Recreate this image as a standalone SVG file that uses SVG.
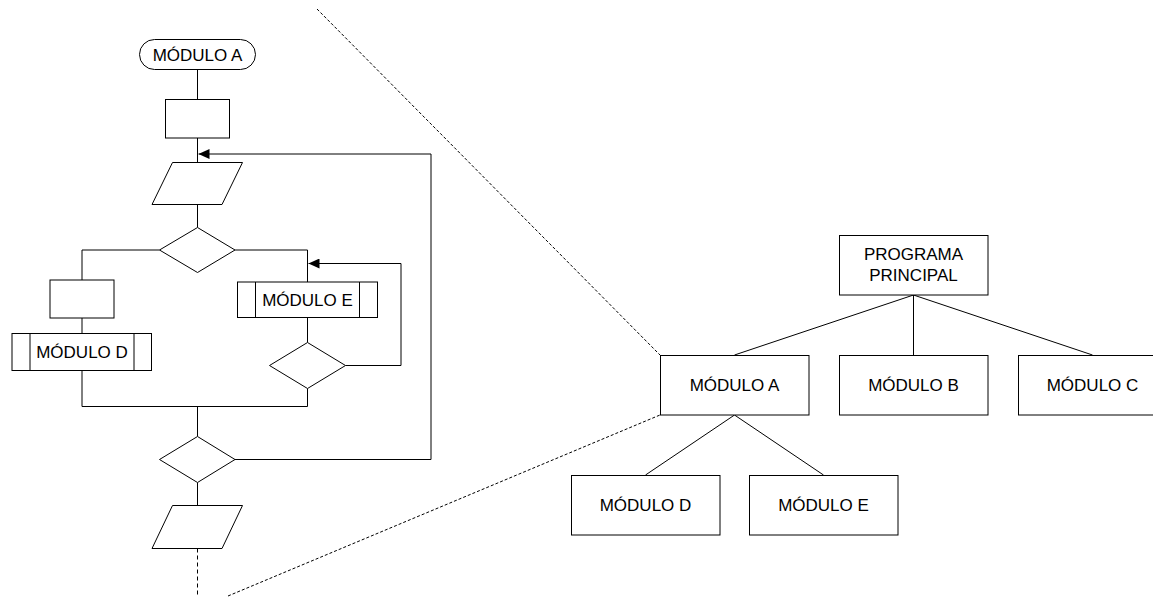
<svg xmlns="http://www.w3.org/2000/svg" width="1153" height="599" viewBox="0 0 1153 599">
<style>
.s{fill:#fff;stroke:#000;stroke-width:1}
.l{fill:none;stroke:#000;stroke-width:1}
.d{fill:none;stroke:#000;stroke-width:1;stroke-dasharray:3 2}
.dv{fill:none;stroke:#000;stroke-width:1;stroke-dasharray:4 3}
text{font-family:"Liberation Sans",Arial,sans-serif;font-size:17px;fill:#000;text-anchor:middle}
</style>
<defs>
<marker id="ah" viewBox="0 0 11 10" refX="11" refY="5" markerWidth="11" markerHeight="10" markerUnits="userSpaceOnUse" orient="auto">
<path d="M0,0 L11,5 L0,10 Z" fill="#000"/>
</marker>
</defs>
<rect width="1153" height="599" fill="#fff"/>
<g id="connectors">
<path class="l" d="M197.5,69.5 V99.5"/>
<path class="l" d="M197.5,138 V162.5"/>
<path class="l" d="M197.5,204.5 V227.5"/>
<path class="l" d="M159.5,250 H82 V280"/>
<path class="l" d="M235,250 H307.5 V282"/>
<path class="l" d="M82,318 V333.5"/>
<path class="l" d="M82,370.5 V406.5 H307.5 V388.5"/>
<path class="l" d="M307.5,317.5 V342.5"/>
<path class="l" d="M345.5,365.5 H401 V263.5 H308.5" marker-end="url(#ah)"/>
<path class="l" d="M197.5,406.5 V436.5"/>
<path class="l" d="M235,459.5 H431 V154 H198.5" marker-end="url(#ah)"/>
<path class="l" d="M197.5,482.5 V505.5"/>
<path class="dv" d="M197.5,548.5 V595"/>
<path class="d" d="M317,9 L660,355"/>
<path class="d" d="M228,596 L660,415"/>
<path class="l" d="M913.5,295 L734.5,355"/>
<path class="l" d="M913.5,295 V355"/>
<path class="l" d="M913.5,295 L1092.5,355"/>
<path class="l" d="M734.5,415 L645.5,475"/>
<path class="l" d="M734.5,415 L823.5,475"/>
</g>
<g id="fc-start">
<rect class="s" x="139.5" y="39.5" width="116" height="30" rx="15" ry="15"/>
<text x="197.5" y="60.5">MÓDULO A</text>
</g>
<g id="fc-process1">
<rect class="s" x="165.5" y="99.5" width="64" height="38.5"/>
</g>
<g id="fc-io1">
<polygon class="s" points="172.5,162.5 242.5,162.5 222,204.5 152,204.5"/>
</g>
<g id="fc-decision1">
<polygon class="s" points="197.5,227.5 235,250 197.5,272.5 159.5,250"/>
</g>
<g id="fc-process2">
<rect class="s" x="50" y="280" width="64" height="38"/>
</g>
<g id="fc-moduloE">
<rect class="s" x="237.5" y="282" width="140" height="35.5"/>
<path class="l" d="M255.5,282 V317.5 M359.5,282 V317.5"/>
<text x="307.5" y="305.5">MÓDULO E</text>
</g>
<g id="fc-moduloD">
<rect class="s" x="12" y="333.5" width="139.5" height="37"/>
<path class="l" d="M30,333.5 V370.5 M134,333.5 V370.5"/>
<text x="82" y="357.5">MÓDULO D</text>
</g>
<g id="fc-decision2">
<polygon class="s" points="307.5,342.5 345.5,365.5 307.5,388.5 269.5,365.5"/>
</g>
<g id="fc-decision3">
<polygon class="s" points="197.5,436.5 235,459.5 197.5,482.5 159.5,459.5"/>
</g>
<g id="fc-io2">
<polygon class="s" points="172.5,505.5 242.5,505.5 222,548.5 152,548.5"/>
</g>
<g id="programa-principal">
<rect class="s" x="839.5" y="235.5" width="148.5" height="59.5"/>
<text x="913.5" y="259.5">PROGRAMA</text>
<text x="913.5" y="280.5">PRINCIPAL</text>
</g>
<g id="modulo-a">
<rect class="s" x="660.5" y="355.5" width="148.5" height="59.5"/>
<text x="734.5" y="391">MÓDULO A</text>
</g>
<g id="modulo-b">
<rect class="s" x="839.5" y="355.5" width="148.5" height="59.5"/>
<text x="913.5" y="391">MÓDULO B</text>
</g>
<g id="modulo-c">
<rect class="s" x="1018.5" y="355.5" width="148.5" height="59.5"/>
<text x="1092.5" y="391">MÓDULO C</text>
</g>
<g id="modulo-d">
<rect class="s" x="571.5" y="475.5" width="148.5" height="59.5"/>
<text x="645.5" y="511">MÓDULO D</text>
</g>
<g id="modulo-e">
<rect class="s" x="749.5" y="475.5" width="148.5" height="59.5"/>
<text x="823.5" y="511">MÓDULO E</text>
</g>
</svg>
